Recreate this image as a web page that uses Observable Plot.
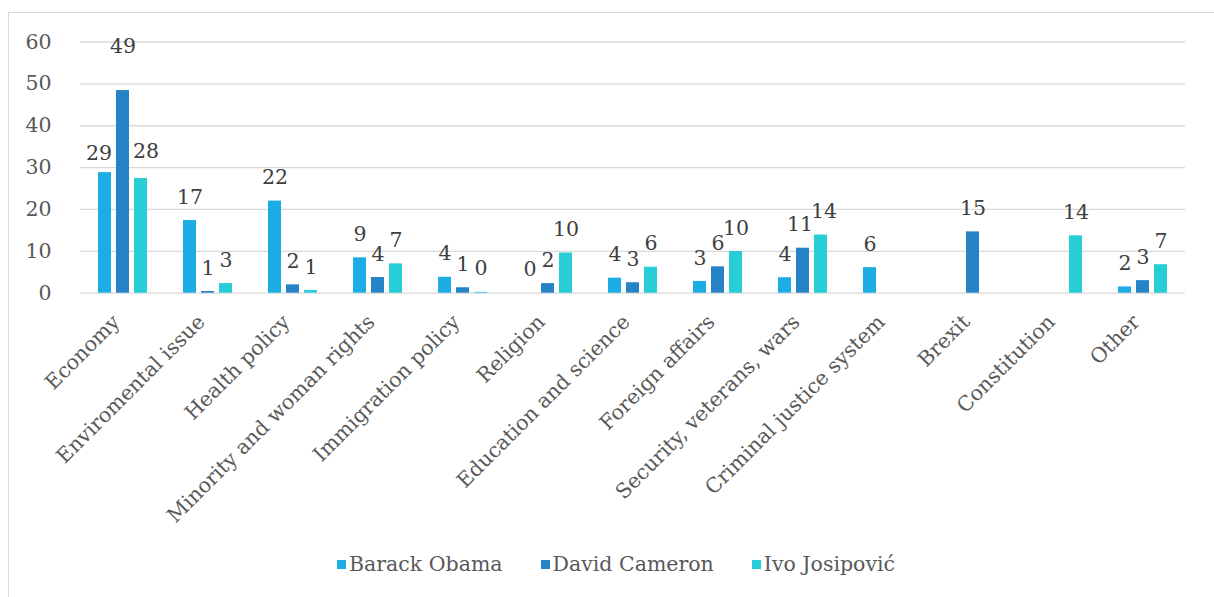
<!DOCTYPE html>
<html>
<head>
<meta charset="utf-8">
<script src="https://cdn.jsdelivr.net/npm/d3@7"></script>
<script src="https://cdn.jsdelivr.net/npm/@observablehq/plot@0.6"></script>
<style>
  html, body { margin: 0; padding: 0; background: #fff; }
  body { width: 1214px; height: 597px; position: relative; overflow: hidden; }
  #frame { position: absolute; left: 8px; top: 12px; right: -2px; bottom: -2px;
           border-left: 1px solid #d9d9d9; border-top: 1px solid #d9d9d9; }
  #chart { position: absolute; left: 0; top: 0; }
  #legend { position: absolute; left: 337px; top: 552px; display: flex; align-items: center;
            font-family: "DejaVu Serif", serif; font-size: 20.5px; color: #595959; }
  #legend .item { display: flex; align-items: center; margin-right: 38px; }
  #legend .sw { width: 9px; height: 9px; margin-right: 3px; }
  #chart svg g[aria-label="y-axis"] text, #chart svg g[aria-label="y-axis tick label"] text { fill: #595959; font-size: 20.5px; }
</style>
</head>
<body>
<div id="frame"></div>
<div id="chart"></div>
<div id="legend"></div>
<script>
const categories = ["Economy", "Enviromental issue", "Health policy", "Minority and woman rights",
  "Immigration policy", "Religion", "Education and science", "Foreign affairs",
  "Security, veterans, wars", "Criminal justice system", "Brexit", "Constitution", "Other"];
const seriesNames = ["Barack Obama", "David Cameron", "Ivo Josipović"];
const seriesColors = ["#1CADE4", "#2683C6", "#27CED7"];

// bar heights (null = no bar)
const obama     = [28.8, 17.35, 22.0, 8.45, 3.8, 0, 3.6, 2.8, 3.7, 6.1, null, null, 1.5];
const cameron   = [48.4, 0.4, 2.0, 3.75, 1.3, 2.3, 2.5, 6.3, 10.75, null, 14.65, null, 3.0];
const josipovic = [27.4, 2.3, 0.65, 7.0, 0.2, 9.6, 6.2, 9.95, 13.9, null, null, 13.7, 6.8];

// data labels as printed
const obamaLabels     = ["29", "17", "22", "9", "4", "0", "4", "3", "4", "6", "", "", "2"];
const cameronLabels   = ["49", "1", "2", "4", "1", "2", "3", "6", "11", "", "15", "", "3"];
const josipovicLabels = ["28", "3", "1", "7", "0", "10", "6", "10", "14", "", "", "14", "7"];

const yTicks = [0, 10, 20, 30, 40, 50, 60];

const seriesValues = [obama, cameron, josipovic];
const seriesLabels = [obamaLabels, cameronLabels, josipovicLabels];
const rows = [];
categories.forEach((c, i) => {
  seriesNames.forEach((s, j) => {
    const v = seriesValues[j][i];
    if (v !== null) rows.push({category: c, series: s, value: v, label: seriesLabels[j][i]});
  });
});

// hand-moved labels (as in the original chart): [category, series, dx, dy]
const moved = [
  ["Economy", "Barack Obama", -6, -19.3],
  ["Economy", "David Cameron", 0, -44],
  ["Economy", "Ivo Josipović", 5, -27],
  ["Security, veterans, wars", "David Cameron", -3, -23.5],
  ["Security, veterans, wars", "Ivo Josipović", 3, -23.5]
];
const isMoved = d => moved.some(m => m[0] === d.category && m[1] === d.series);
const fontFamily = "'DejaVu Serif', serif";
const labelStyle = {fill: "#404040", fontSize: 20.5, fontFamily, textAnchor: "middle"};
const labelMarks = [
  Plot.text(rows.filter(d => d.label !== "" && !isMoved(d)),
    {fx: "category", x: "series", y: "value", text: "label", dy: -23.5, ...labelStyle}),
  ...moved.map(([c, s, dx, dy]) => Plot.text(rows.filter(d => d.category === c && d.series === s),
    {fx: "category", x: "series", y: "value", text: "label", dx, dy, ...labelStyle}))
];

const chart = Plot.plot({
  width: 1214,
  height: 560,
  marginLeft: 75,
  marginRight: 25,
  marginTop: 41.5,
  marginBottom: 267.3,
  style: {fontFamily, fontSize: "20px", color: "#595959", background: "transparent", overflow: "visible"},
  fx: {domain: categories, padding: 0, label: null, axis: null},
  x: {domain: seriesNames, paddingInner: 0.26, paddingOuter: 0.9, axis: null},
  y: {domain: [0, 60], ticks: yTicks, label: null, tickSize: 0, tickPadding: 29},
  color: {domain: seriesNames, range: seriesColors},
  marks: [
    Plot.ruleY(yTicks, {stroke: "#d9d9d9", strokeWidth: 1.3}),
    Plot.barY(rows, {fx: "category", x: "series", y: "value", fill: "series"}),
    ...labelMarks,
    // category (fx) tick labels
    Plot.text(categories, {fx: d => d, text: d => d, frameAnchor: "bottom", rotate: -45,
      textAnchor: "end", dx: -2, dy: 30, fill: "#595959", fontSize: 20.5, fontFamily})
  ]
});
document.getElementById("chart").appendChild(chart);

const legend = document.getElementById("legend");
seriesNames.forEach((s, j) => {
  const item = document.createElement("div");
  item.className = "item";
  const sw = document.createElement("span");
  sw.className = "sw";
  sw.style.background = seriesColors[j];
  const t = document.createElement("span");
  t.textContent = s;
  item.appendChild(sw);
  item.appendChild(t);
  legend.appendChild(item);
});
</script>
</body>
</html>
